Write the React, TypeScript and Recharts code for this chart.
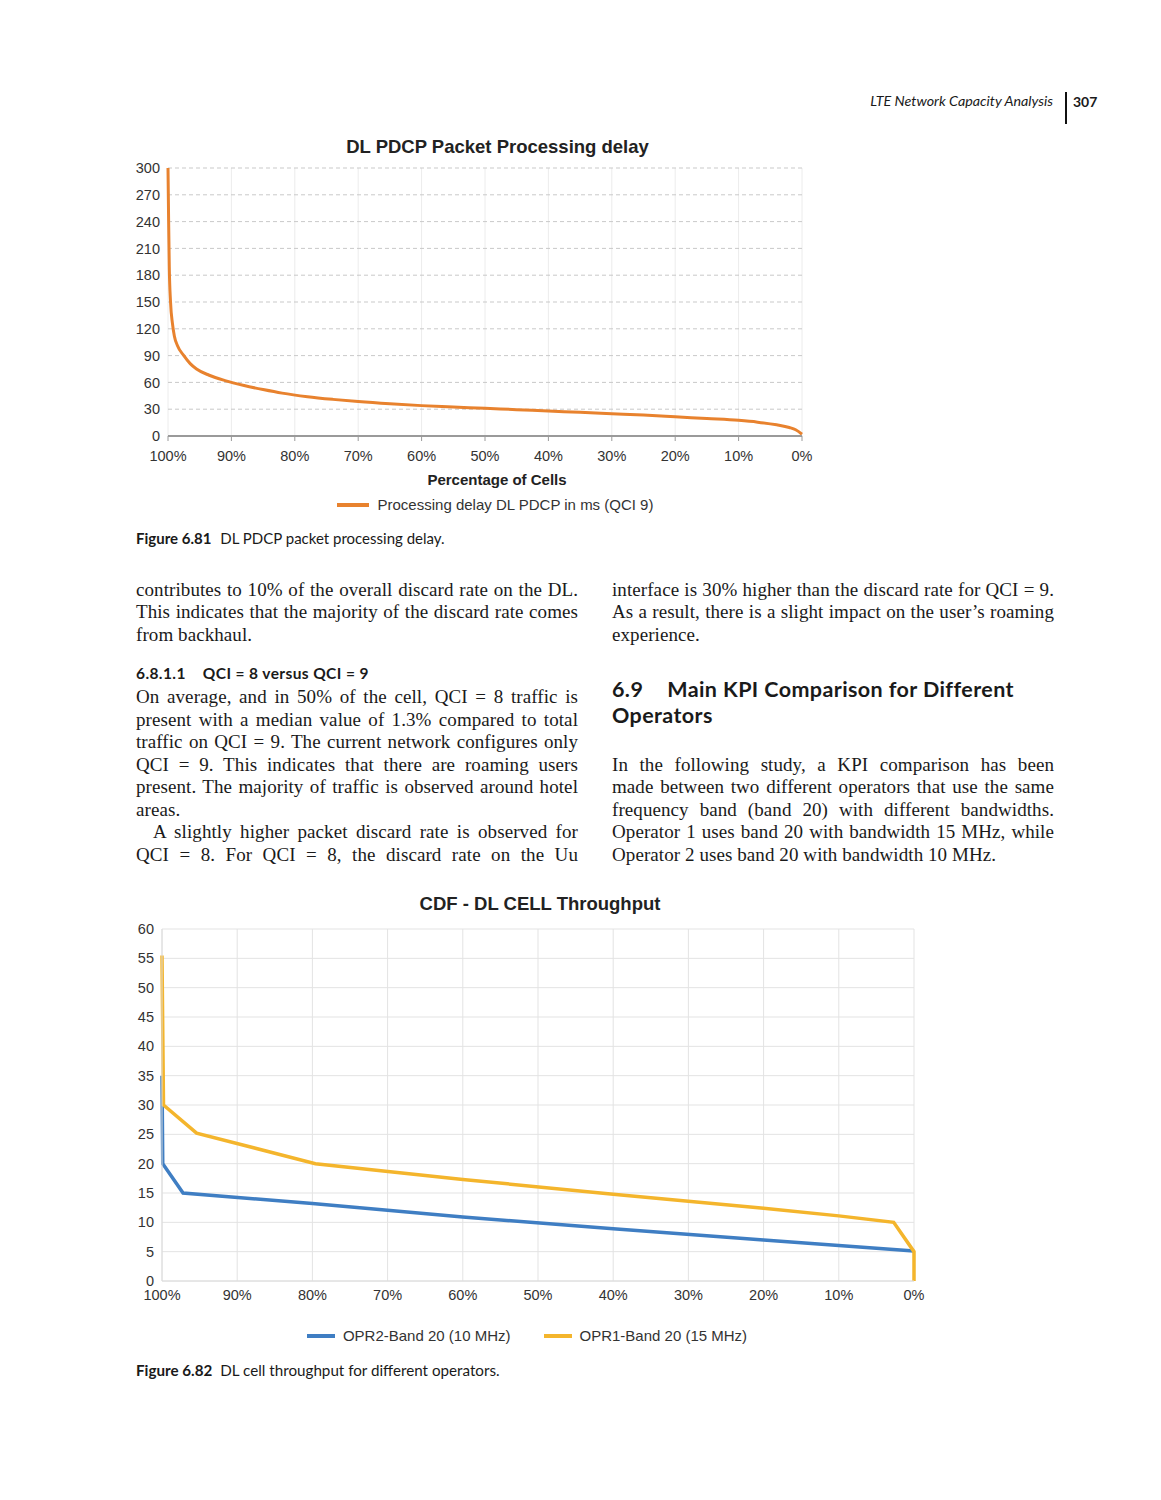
import React from 'react';
import { LineChart, Line, XAxis, YAxis, CartesianGrid, Legend, Label } from 'recharts';

// ── chart data ─────────────────────────────────────────────────────────
const pctTicks = [100, 90, 80, 70, 60, 50, 40, 30, 20, 10, 0];

// Fig 6.81 – PDCP processing delay (ms) vs share of cells
const delayTicks = [0, 30, 60, 90, 120, 150, 180, 210, 240, 270, 300];
const delayPct = [100, 99.9, 99.8, 99.6, 99.3, 99.0, 98.5, 97.5, 96.5, 95.5, 93.5, 91, 88, 85, 82, 78, 74, 70, 65, 60, 55, 50, 45, 40, 35, 30, 25, 20, 15, 10, 7, 4, 2, 1, 0];
const delayMs = [300, 240, 190, 150, 126, 112, 101, 90, 81, 75, 68, 62, 56.5, 52, 48, 44, 41, 38.5, 36, 34, 32.5, 31, 29.5, 28, 26.5, 25, 23.5, 21.5, 19.5, 17.5, 15.5, 12.5, 9.5, 7, 2];

// Fig 6.82 – DL cell throughput CDF
const tputTicks = [0, 5, 10, 15, 20, 25, 30, 35, 40, 45, 50, 55, 60];
const opr2Pct = [100, 99.9, 97.2, 80, 60, 40, 20, 0];
const opr2Val = [35, 20, 15, 13.2, 10.9, 8.9, 7.0, 5.1];
const opr1Pct = [100, 99.8, 95.4, 79.6, 60, 40, 20, 10, 2.7, 0, 0];
const opr1Val = [55.5, 30, 25.2, 20, 17.3, 14.8, 12.4, 11.1, 10, 5, 0];
const seriesNames = ['OPR2-Band 20 (10 MHz)', 'OPR1-Band 20 (15 MHz)'];

const delayRows = delayPct.map((p, i) => ({ pct: p, ms: delayMs[i] }));
const opr2Rows = opr2Pct.map((p, i) => ({ pct: p, v: opr2Val[i] }));
const opr1Rows = opr1Pct.map((p, i) => ({ pct: p, v: opr1Val[i] }));

// ── page text ──────────────────────────────────────────────────────────
const leftTop = [
  'contributes to 10% of the overall discard rate on the DL.',
  'This indicates that the majority of the discard rate comes',
  'from backhaul.',
];
const leftPara = [
  'On average, and in 50% of the cell, QCI = 8 traffic is',
  'present with a median value of 1.3% compared to total',
  'traffic on QCI = 9. The current network configures only',
  'QCI = 9. This indicates that there are roaming users',
  'present. The majority of traffic is observed around hotel',
  'areas.',
  'A slightly higher packet discard rate is observed for',
  'QCI = 8. For QCI = 8, the discard rate on the Uu',
];
const rightTop = [
  'interface is 30% higher than the discard rate for QCI = 9.',
  'As a result, there is a slight impact on the user\u2019s roaming',
  'experience.',
];
const rightPara = [
  'In the following study, a KPI comparison has been',
  'made between two different operators that use the same',
  'frequency band (band 20) with different bandwidths.',
  'Operator 1 uses band 20 with bandwidth 15 MHz, while',
  'Operator 2 uses band 20 with bandwidth 10 MHz.',
];

const SERIF = '"Liberation Serif", "Times New Roman", serif';
const SANS = 'Lato, "Open Sans", sans-serif';
const CHART = '"Liberation Sans", Arial, sans-serif';

const axisText = { fontSize: 14.5, fill: '#333', fontFamily: CHART };

/* baseline-positioned text row; k = baseline offset for line-height 1 */
function Row({ x, base, w, size, font, k, children, justify, style }: any) {
  return (
    <div
      style={{
        position: 'absolute', left: x, top: base - size * k, width: w,
        fontSize: size, lineHeight: `${size}px`, fontFamily: font, whiteSpace: 'nowrap',
        textAlign: justify ? 'justify' : 'left', textAlignLast: justify ? 'justify' : 'auto',
        ...style,
      }}
    >
      {children}
    </div>
  );
}

function BodyLines({ lines, x, base0, last, indent }: any) {
  return lines.map((t: string, i: number) => {
    const ind = indent && indent[i] ? indent[i] : 0;
    return (
      <Row key={i} x={x + ind} w={442 - ind} base={base0 + 22.5 * i} size={19} font={SERIF} k={0.8375}
        justify={!last.includes(i)} style={{ letterSpacing: 0.08 }}>
        {t}
      </Row>
    );
  });
}

const legendContent = (swatch: number, gap: number, itemGap: number) => (props: any) => (
  <div style={{ display: 'flex', justifyContent: 'center', alignItems: 'center', fontFamily: CHART, fontSize: 15, color: '#333' }}>
    {(props.payload || []).map((e: any, i: number) => (
      <div key={i} style={{ display: 'flex', alignItems: 'center', marginLeft: i ? itemGap : 0 }}>
        <svg width={swatch} height={6}><line x1={0} y1={3} x2={swatch} y2={3} stroke={e.color} strokeWidth={4} /></svg>
        <span style={{ marginLeft: gap }}>{e.value}</span>
      </div>
    ))}
  </div>
);

function DelayChart() {
  return (
    <div style={{ position: 'absolute', left: 100, top: 160 }}>
      <LineChart width={730} height={370} data={delayRows} margin={{ top: 8, right: 28, bottom: 34, left: 0 }}>
        <CartesianGrid horizontal={false} stroke="#ececec" />
        <CartesianGrid vertical={false} stroke="#c9c9c9" strokeDasharray="4 3" />
        <XAxis type="number" dataKey="pct" domain={[0, 100]} reversed ticks={pctTicks} interval={0}
          tickFormatter={(v) => `${v}%`} height={60} tick={axisText} tickSize={5} tickMargin={10}
          axisLine={{ stroke: '#9a9a9a', strokeWidth: 2 }} tickLine={{ stroke: '#9a9a9a' }}>
          <Label value="Percentage of Cells" position="insideBottom" offset={11} dx={12}
            style={{ fontSize: 15, fontWeight: 700, fill: '#222', fontFamily: CHART }} />
        </XAxis>
        <YAxis type="number" domain={[0, 300]} ticks={delayTicks} interval={0} width={68}
          axisLine={false} tickLine={false} tick={axisText} />
        <Legend verticalAlign="middle" align="center" layout="horizontal"
          wrapperStyle={{ left: 30, width: 730, top: 336 }} content={legendContent(32, 9, 30)} />
        <Line type="monotone" dataKey="ms" name="Processing delay DL PDCP in ms (QCI 9)"
          stroke="#E8822E" strokeWidth={3} dot={false} isAnimationActive={false} />
      </LineChart>
    </div>
  );
}

function ThroughputChart() {
  return (
    <div style={{ position: 'absolute', left: 100, top: 915 }}>
      <LineChart width={840} height={440} margin={{ top: 14, right: 26, bottom: 44, left: 0 }}>
        <CartesianGrid stroke="#e3e3e3" />
        <XAxis type="number" dataKey="pct" domain={[0, 100]} reversed ticks={pctTicks} interval={0}
          tickFormatter={(v) => `${v}%`} height={30} tick={axisText} tickSize={0} tickMargin={9}
          axisLine={{ stroke: '#dcdcdc' }} tickLine={false} />
        <YAxis type="number" domain={[0, 60]} ticks={tputTicks} interval={0} width={62}
          axisLine={{ stroke: '#dcdcdc' }} tickLine={false} tick={axisText} />
        <Legend verticalAlign="middle" align="center" layout="horizontal"
          itemSorter={(e: any) => seriesNames.indexOf(e.value)}
          wrapperStyle={{ left: 7, width: 840, top: 412 }} content={legendContent(28, 8, 33)} />
        <Line data={opr2Rows} type="linear" dataKey="v" name={seriesNames[0]}
          stroke="#3F7EC3" strokeWidth={3.5} dot={false} isAnimationActive={false} />
        <Line data={opr1Rows} type="linear" dataKey="v" name={seriesNames[1]}
          stroke="#F4B52C" strokeWidth={3.5} dot={false} isAnimationActive={false} />
      </LineChart>
    </div>
  );
}

export default function App() {
  return (
    <div style={{ position: 'absolute', left: 0, top: 0, width: 1161, height: 1500, background: '#fff', color: '#1a1a1a', overflow: 'hidden' }}>
      {/* running head */}
      <Row x={780} w={273} base={107} size={14.3} font={SANS} k={0.887} style={{ textAlign: 'right', fontStyle: 'italic' }}>
        LTE Network Capacity Analysis
      </Row>
      <div style={{ position: 'absolute', left: 1065, top: 92, width: 2, height: 32, background: '#111' }} />
      <Row x={1073} w={40} base={107} size={14} font={SANS} k={0.887} style={{ fontWeight: 700 }}>307</Row>

      {/* figure 6.81 */}
      <div style={{ position: 'absolute', left: 200, top: 136, width: 595, textAlign: 'center', fontFamily: CHART, fontSize: 18.5, fontWeight: 700, color: '#222', lineHeight: '22px' }}>
        DL PDCP Packet Processing delay
      </div>
      <DelayChart />
      <Row x={136} w={500} base={544} size={15} font={SANS} k={0.887}>
        <b>Figure 6.81</b><span style={{ marginLeft: 9 }}>DL PDCP packet processing delay.</span>
      </Row>

      {/* body text */}
      <BodyLines lines={leftTop} x={136} base0={595.7} last={[2]} />
      <Row x={136} w={442} base={680} size={15.5} font={SANS} k={0.887} style={{ fontWeight: 700, letterSpacing: 0.4 }}>
        6.8.1.1<span style={{ marginLeft: 17 }}>QCI = 8 versus QCI = 9</span>
      </Row>
      <BodyLines lines={leftPara} x={136} base0={703.3} last={[5]} indent={{ 6: 17 }} />

      <BodyLines lines={rightTop} x={612} base0={595.7} last={[2]} />
      <Row x={612} w={442} base={698.3} size={21.5} font={SANS} k={0.887} style={{ fontWeight: 700, letterSpacing: 0.4 }}>
        6.9<span style={{ marginLeft: 24 }}>Main KPI Comparison for Different</span>
      </Row>
      <Row x={612} w={442} base={724.3} size={21.5} font={SANS} k={0.887} style={{ fontWeight: 700, letterSpacing: 0.4 }}>
        Operators
      </Row>
      <BodyLines lines={rightPara} x={612} base0={770.8} last={[4]} />

      {/* figure 6.82 */}
      <div style={{ position: 'absolute', left: 240, top: 893, width: 600, textAlign: 'center', fontFamily: CHART, fontSize: 18.5, fontWeight: 700, color: '#222', lineHeight: '22px' }}>
        CDF - DL CELL Throughput
      </div>
      <ThroughputChart />
      <Row x={136} w={500} base={1376} size={15.2} font={SANS} k={0.887}>
        <b>Figure 6.82</b><span style={{ marginLeft: 8 }}>DL cell throughput for different operators.</span>
      </Row>
    </div>
  );
}
